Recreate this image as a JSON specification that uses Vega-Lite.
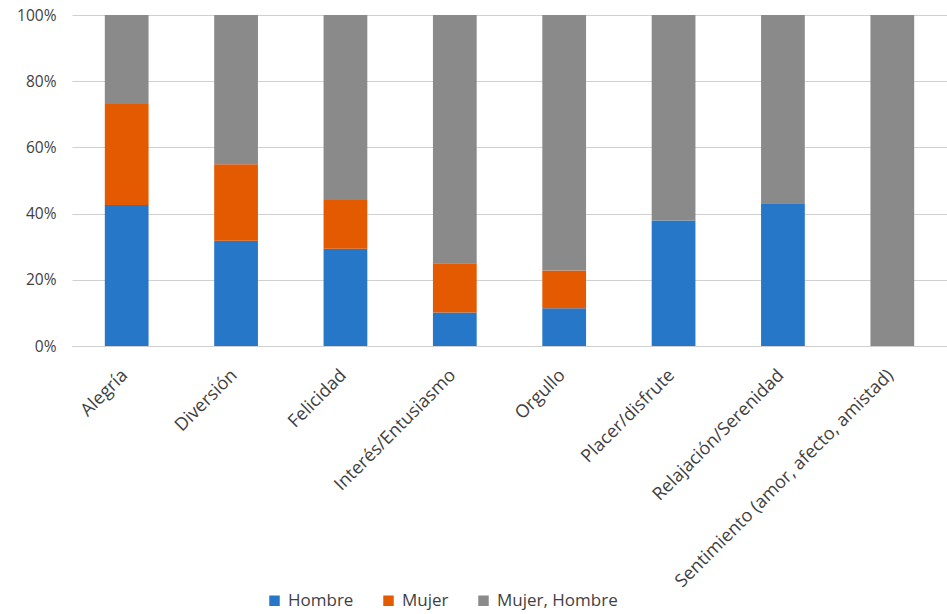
{
  "$schema": "https://vega.github.io/schema/vega-lite/v6.json",
  "autosize": {"type": "none"},
  "padding": {"left": 72, "top": 15, "right": 0, "bottom": 268},
  "width": 875,
  "height": 331,
  "background": "white",
  "config": {
    "view": {"stroke": null},
    "font": "Open Sans"
  },
  "data": {
    "values": [
      {"emocion": "Alegría", "grupo": "Hombre", "orden": 1, "valor": 42.6},
      {"emocion": "Alegría", "grupo": "Mujer", "orden": 2, "valor": 30.5},
      {"emocion": "Alegría", "grupo": "Mujer, Hombre", "orden": 3, "valor": 26.9},
      {"emocion": "Diversión", "grupo": "Hombre", "orden": 1, "valor": 31.8},
      {"emocion": "Diversión", "grupo": "Mujer", "orden": 2, "valor": 23.1},
      {"emocion": "Diversión", "grupo": "Mujer, Hombre", "orden": 3, "valor": 45.1},
      {"emocion": "Felicidad", "grupo": "Hombre", "orden": 1, "valor": 29.4},
      {"emocion": "Felicidad", "grupo": "Mujer", "orden": 2, "valor": 14.7},
      {"emocion": "Felicidad", "grupo": "Mujer, Hombre", "orden": 3, "valor": 55.9},
      {"emocion": "Interés/Entusiasmo", "grupo": "Hombre", "orden": 1, "valor": 10.1},
      {"emocion": "Interés/Entusiasmo", "grupo": "Mujer", "orden": 2, "valor": 14.9},
      {"emocion": "Interés/Entusiasmo", "grupo": "Mujer, Hombre", "orden": 3, "valor": 75.0},
      {"emocion": "Orgullo", "grupo": "Hombre", "orden": 1, "valor": 11.4},
      {"emocion": "Orgullo", "grupo": "Mujer", "orden": 2, "valor": 11.4},
      {"emocion": "Orgullo", "grupo": "Mujer, Hombre", "orden": 3, "valor": 77.2},
      {"emocion": "Placer/disfrute", "grupo": "Hombre", "orden": 1, "valor": 37.9},
      {"emocion": "Placer/disfrute", "grupo": "Mujer, Hombre", "orden": 3, "valor": 62.1},
      {"emocion": "Relajación/Serenidad", "grupo": "Hombre", "orden": 1, "valor": 43.1},
      {"emocion": "Relajación/Serenidad", "grupo": "Mujer, Hombre", "orden": 3, "valor": 56.9},
      {"emocion": "Sentimiento (amor, afecto, amistad)", "grupo": "Mujer, Hombre", "orden": 3, "valor": 100}
    ]
  },
  "mark": {"type": "bar"},
  "encoding": {
    "x": {
      "field": "emocion",
      "type": "nominal",
      "sort": null,
      "scale": {"paddingInner": 0.6, "paddingOuter": 0.3},
      "axis": {
        "title": null,
        "labelAngle": -45,
        "labelFontSize": 18,
        "labelColor": "#3f3f3f",
        "labelPadding": 20,
        "labelOffset": -8,
        "ticks": false,
        "domain": true,
        "domainColor": "#d0d0d0",
        "labelLimit": 500
      }
    },
    "y": {
      "field": "valor",
      "type": "quantitative",
      "stack": "normalize",
      "scale": {"domain": [0, 1]},
      "axis": {
        "title": null,
        "format": ".0%",
        "values": [0, 0.2, 0.4, 0.6, 0.8, 1],
        "labelFontSize": 15.5,
        "labelColor": "#3f3f3f",
        "labelPadding": 16,
        "ticks": false,
        "domain": false,
        "gridColor": "#d0d0d0",
        "gridWidth": 1
      }
    },
    "color": {
      "field": "grupo",
      "type": "nominal",
      "scale": {
        "domain": ["Hombre", "Mujer", "Mujer, Hombre"],
        "range": ["#2677C8", "#E35A00", "#8A8A8A"]
      },
      "legend": {
        "title": null,
        "orient": "none",
        "direction": "horizontal",
        "legendX": 194,
        "legendY": 577,
        "symbolType": "square",
        "symbolSize": 110,
        "symbolStrokeWidth": 0,
        "symbolOpacity": 1,
        "labelFontSize": 17,
        "labelColor": "#3f3f3f",
        "columnPadding": 26,
        "labelOffset": 5
      }
    },
    "order": {"field": "orden", "type": "quantitative"}
  }
}
